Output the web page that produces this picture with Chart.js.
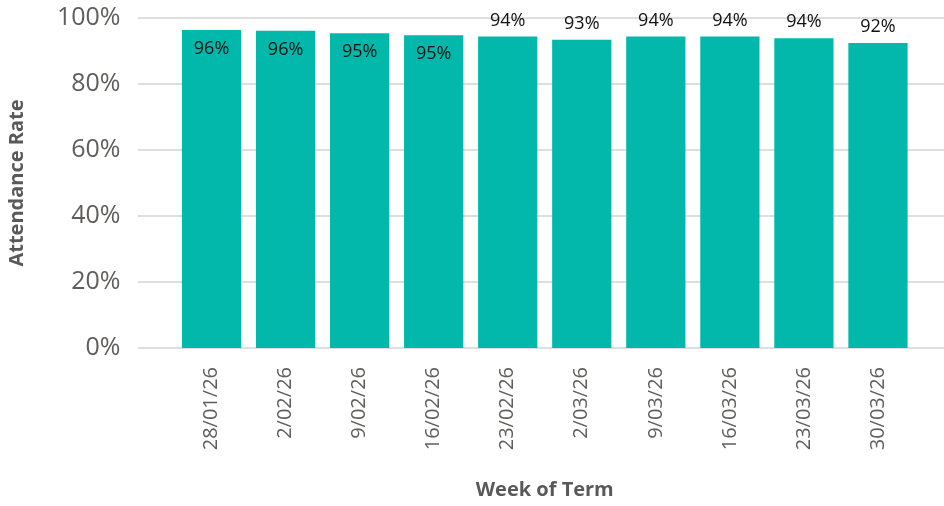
<!DOCTYPE html>
<html>
<head>
<meta charset="utf-8">
<script src="https://cdn.jsdelivr.net/npm/chart.js@4"></script>
<style>
  html, body { margin: 0; padding: 0; background: #fff; }
  #wrap { width: 944px; height: 506px; }
</style>
</head>
<body>
<div id="wrap"><canvas id="chart"></canvas></div>
<script>
const weeks = ['28/01/26', '2/02/26', '9/02/26', '16/02/26', '23/02/26', '2/03/26', '9/03/26', '16/03/26', '23/03/26', '30/03/26'];
const attendance = [96.4, 96.1, 95.4, 94.8, 94.4, 93.4, 94.4, 94.4, 93.9, 92.4];
const yTicks = [0, 20, 40, 60, 80, 100];

const FONT = "'Open Sans', 'DejaVu Sans', sans-serif";

// gridlines run wider than the bar area, like the original
const wideGrid = {
  id: 'wideGrid',
  beforeDatasetsDraw(chart) {
    const { ctx, scales: { y } } = chart;
    ctx.save();
    ctx.strokeStyle = '#dedede';
    ctx.lineWidth = 2;
    yTicks.forEach(v => {
      const py = Math.round(y.getPixelForValue(v));
      ctx.beginPath();
      ctx.moveTo(138, py);
      ctx.lineTo(chart.width, py);
      ctx.stroke();
    });
    ctx.restore();
  }
};

// value labels: inside the top of tall bars, above the rest
const barLabels = {
  id: 'barLabels',
  afterDatasetsDraw(chart) {
    const { ctx } = chart;
    const meta = chart.getDatasetMeta(0);
    ctx.save();
    ctx.font = '18px ' + FONT;
    ctx.fillStyle = '#111';
    ctx.textAlign = 'center';
    ctx.textBaseline = 'middle';
    meta.data.forEach((bar, i) => {
      const v = attendance[i];
      const y = v >= 94.7 ? bar.y + 19 : bar.y - 16;
      ctx.fillText(Math.round(v) + '%', bar.x, y);
    });
    ctx.restore();
  }
};

new Chart(document.getElementById('chart'), {
  type: 'bar',
  data: {
    labels: weeks,
    datasets: [{
      data: attendance,
      backgroundColor: '#01B8AA',
      categoryPercentage: 0.8,
      barPercentage: 1.0
    }]
  },
  options: {
    responsive: true,
    maintainAspectRatio: false,
    animation: false,
    layout: { padding: { top: 18, right: 29, bottom: 0, left: 0 } },
    plugins: {
      legend: { display: false },
      tooltip: { enabled: false }
    },
    scales: {
      x: {
        grid: { display: false, drawTicks: false },
        border: { display: false },
        ticks: {
          color: '#605E5C',
          font: { family: FONT, size: 20 },
          minRotation: 90,
          maxRotation: 90,
          padding: 19
        },
        title: {
          display: true,
          text: 'Week of Term',
          color: '#595959',
          font: { family: FONT, size: 20, weight: 'bold' },
          padding: { top: 0, bottom: 4 }
        },
        afterFit(scale) {
          scale.height = 158;
          scale.paddingTop = 0;
          scale.paddingBottom = 0;
        }
      },
      y: {
        min: 0,
        max: 100,
        grid: { display: false, drawTicks: false },
        border: { display: false },
        ticks: {
          stepSize: 20,
          color: '#605E5C',
          font: { family: FONT, size: 25 },
          padding: 54,
          callback: v => v + '%'
        },
        title: {
          display: true,
          text: 'Attendance Rate',
          color: '#595959',
          font: { family: FONT, size: 20, weight: 'bold' },
          padding: { top: 5, bottom: 0 }
        },
        afterFit(scale) {
          scale.width = 174.5;
          scale.paddingTop = 0;
          scale.paddingBottom = 0;
        }
      }
    }
  },
  plugins: [wideGrid, barLabels]
});
</script>
</body>
</html>
